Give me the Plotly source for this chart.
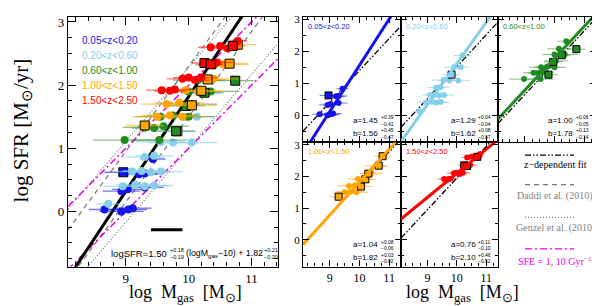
import plotly.graph_objects as go

# ---------------- data ----------------
bin_labels = ["0.05<z<0.20", "0.20<z<0.60", "0.60<z<1.00", "1.00<z<1.50", "1.50<z<2.50"]
bin_colors = ["rgb(20,20,235)", "rgb(135,206,235)", "rgb(34,139,34)", "rgb(255,165,0)", "rgb(255,0,0)"]
bar_colors = ["rgba(20,20,235,0.6)", "rgba(135,206,235,0.7)", "rgba(34,139,34,0.55)", "rgba(255,165,0,0.6)", "rgba(255,0,0,0.55)"]

blue_logm = [8.66, 8.93, 9.04, 9.11, 8.93, 9.03, 9.30, 8.96, 9.21, 9.30, 9.43]
blue_sfr = [0.03, 0.00, 0.03, 0.05, 0.32, 0.35, 0.38, 0.62, 0.59, 0.60, 0.83]
blue_err = [0.25, 0.35, 0.30, 0.30, 0.30, 0.25, 0.30, 0.30, 0.30, 0.30, 0.20]
blue_sq = [0, 0, 0, 0, 0, 0, 0, 1, 0, 0, 0]

lblue_logm = [8.72, 8.95, 9.15, 9.30, 9.45, 9.10, 9.25, 9.40, 9.56, 9.30, 9.45, 9.55, 9.75, 9.82, 9.91, 10.05, 10.13, 10.19]
lblue_sfr = [0.12, 0.40, 0.42, 0.40, 0.41, 0.63, 0.64, 0.62, 0.63, 0.86, 0.88, 1.10, 1.09, 1.27, 1.50, 1.09, 1.50, 1.87]
lblue_err = [0.20, 0.30, 0.30, 0.35, 0.30, 0.30, 0.30, 0.30, 0.35, 0.30, 0.30, 0.40, 0.40, 0.30, 0.35, 0.40, 0.30, 0.30]
lblue_sq = [0, 0, 0, 0, 0, 0, 0, 0, 0, 0, 0, 0, 0, 1, 0, 0, 0, 0]

green_logm = [8.98, 9.53, 9.30, 9.45, 9.60, 9.80, 9.55, 9.75, 10.00, 9.96, 10.05, 10.00, 10.25, 10.35, 10.15, 10.74, 10.40]
green_sfr = [1.13, 1.13, 1.33, 1.32, 1.35, 1.27, 1.50, 1.52, 1.50, 1.67, 1.70, 1.90, 1.88, 1.90, 2.08, 2.07, 2.32]
green_err = [0.50, 0.45, 0.35, 0.35, 0.40, 0.30, 0.40, 0.40, 0.40, 0.30, 0.40, 0.40, 0.30, 0.45, 0.40, 0.30, 0.30]
green_sq = [0, 0, 0, 0, 0, 1, 0, 0, 0, 1, 0, 0, 1, 0, 0, 1, 0]

orange_logm = [9.30, 9.50, 9.70, 9.90, 9.65, 9.85, 10.05, 9.95, 10.15, 10.20, 10.30, 10.40, 10.55, 10.65, 10.78]
orange_sfr = [1.36, 1.50, 1.52, 1.50, 1.70, 1.72, 1.68, 1.92, 1.90, 1.91, 2.09, 2.10, 2.33, 2.34, 2.64]
orange_err = [0.30, 0.40, 0.45, 0.40, 0.40, 0.40, 0.40, 0.35, 0.40, 0.30, 0.30, 0.40, 0.40, 0.30, 0.30]
orange_sq = [1, 0, 0, 0, 0, 0, 1, 0, 0, 1, 1, 0, 0, 1, 1]

red_logm = [9.57, 9.70, 9.78, 9.90, 10.00, 10.10, 10.20, 10.25, 10.35, 10.45, 10.35, 10.50, 10.62, 10.70, 10.78]
red_sfr = [1.92, 1.91, 1.93, 2.10, 2.12, 2.08, 2.12, 2.35, 2.33, 2.36, 2.60, 2.62, 2.58, 2.62, 2.70]
red_err = [0.25, 0.25, 0.25, 0.25, 0.25, 0.25, 0.25, 0.20, 0.20, 0.25, 0.20, 0.20, 0.20, 0.20, 0.15]
red_sq = [0, 0, 0, 0, 0, 0, 0, 1, 1, 0, 0, 0, 0, 1, 0]

all_logm = [blue_logm, lblue_logm, green_logm, orange_logm, red_logm]
all_sfr = [blue_sfr, lblue_sfr, green_sfr, orange_sfr, red_sfr]
all_err = [blue_err, lblue_err, green_err, orange_err, red_err]
all_sq = [blue_sq, lblue_sq, green_sq, orange_sq, red_sq]

# per-bin fits: logSFR = a (logM - 10) + b
fit_a = [1.45, 1.29, 1.00, 1.04, 0.76]
fit_a_up = ["+0.39", "+0.04", "+0.06", "+0.08", "+0.11"]
fit_a_lo = ["−0.41", "−0.04", "−0.05", "−0.06", "−0.10"]
fit_b = [1.56, 1.62, 1.78, 1.82, 2.10]
fit_b_up = ["+0.45", "+0.08", "+0.13", "+0.03", "+0.46"]
fit_b_lo = ["−0.47", "−0.07", "−0.14", "−0.02", "−0.52"]

# z-dependent fit per bin
zdep_slope = [1.00, 1.00, 1.00, 1.00, 1.00]
zdep_norm = [1.40, 1.52, 1.64, 1.78, 1.95]

# global fit
glob_a, glob_b = 1.50, 1.82
# literature relations (slope, value at logM=10)
daddi = [(1.35, 2.30), (1.35, 1.50)]
genzel = [(1.17, 2.28), (1.17, 1.00)]
sfe = [(1.0, 2.0), (1.0, 1.0)]   # SFE = 10 and 1 Gyr^-1
syserr_x = [9.40, 9.90]
syserr_y = [-0.29, -0.29]

XR = [8.08, 11.42]
YR = [-0.875, 3.08]
XRS = [8.1, 11.4]
YRS = [-0.85, 3.08]

W, H = 600, 306
def px(x): return x / W
def py(y): return 1 - y / H

fig = go.Figure()

def line(a, b, xr, color, width, dash, xa, ya):
    xs = [xr[0], xr[1]]
    ys = [a * (v - 10) + b for v in xs]
    fig.add_trace(go.Scatter(x=xs, y=ys, mode="lines", xaxis=xa, yaxis=ya, showlegend=False,
                             line=dict(color=color, width=width, dash=dash), hoverinfo="skip"))

def points(i, xa, ya, msize, ebw):
    c = bin_colors[i]
    xs, ys, es, sq = all_logm[i], all_sfr[i], all_err[i], all_sq[i]
    fig.add_trace(go.Scatter(x=xs, y=ys, mode="markers", xaxis=xa, yaxis=ya, showlegend=False,
                             marker=dict(color=c, size=msize, symbol="circle"),
                             error_x=dict(type="data", array=es, color=bar_colors[i], thickness=ebw, width=0)))
    sx = [x for x, s in zip(xs, sq) if s]
    sy = [y for y, s in zip(ys, sq) if s]
    fig.add_trace(go.Scatter(x=sx, y=sy, mode="markers", xaxis=xa, yaxis=ya, showlegend=False,
                             marker=dict(color=c, size=msize + 1, symbol="square",
                                         line=dict(color="black", width=1))))

DADDI_DASH = "5px,4px"
GENZEL_DASH = "1px,2px"
SFE_DASH = "7px,3px,2px,3px"
ZDEP_DASH = "6px,2px,1.5px,2px,1.5px,2px"

# main panel
for a, b in daddi:
    line(a, b, XR, "rgb(120,120,120)", 1.2, DADDI_DASH, "x", "y")
for a, b in genzel:
    line(a, b, XR, "rgb(120,120,120)", 1.2, GENZEL_DASH, "x", "y")
for a, b in sfe:
    line(a, b, XR, "rgb(230,0,230)", 1.5, SFE_DASH, "x", "y")
line(glob_a, glob_b, XR, "black", 3, "solid", "x", "y")
for i in range(5):
    points(i, "x", "y", 8, 1.3)
fig.add_trace(go.Scatter(x=syserr_x, y=syserr_y, mode="lines", xaxis="x", yaxis="y", showlegend=False,
                         line=dict(color="black", width=3)))

# sub panels
sub_axes = [("x2", "y2"), ("x3", "y3"), ("x4", "y4"), ("x5", "y5"), ("x6", "y6")]
for i, (xa, ya) in enumerate(sub_axes):
    line(zdep_slope[i], zdep_norm[i], XRS, "black", 1.3, ZDEP_DASH, xa, ya)
    points(i, xa, ya, 6, 1.0)
    line(fit_a[i], fit_b[i], XRS, bin_colors[i], 3, "solid", xa, ya)

# ---------------- layout ----------------
main_x = [60 / W, 270 / W]
main_y = [py(258), py(5)]
cols = [[295 / W, 393 / W], [393 / W, 490 / W], [490 / W, 588 / W]]
rows = [[py(132), py(5)], [py(258), py(132)]]

tickfont_main = dict(family="Liberation Serif", size=13, color="black")
tickfont_subx = dict(family="Liberation Serif", size=12, color="black")
tickfont_suby = dict(family="Liberation Serif", size=11, color="black")

def ax(domain, rng, dtick, minor, anchor, showlabels, big, tickfont):
    return dict(domain=domain, range=rng, anchor=anchor, showgrid=False, zeroline=False,
                showline=True, linecolor="black", linewidth=1.3, mirror="ticks",
                ticks="inside", ticklen=8 if big else 6, tickwidth=1.2, tickcolor="black",
                tick0=0, dtick=dtick, showticklabels=showlabels, tickfont=tickfont,
                minor=dict(dtick=minor, ticks="inside", ticklen=4 if big else 3, tickwidth=1, tickcolor="black"))

layout = dict(width=W, height=H, autosize=False, margin=dict(l=0, r=0, t=0, b=0),
              paper_bgcolor="white", plot_bgcolor="white", showlegend=False)
layout["xaxis"] = ax(main_x, XR, 1, 0.2, "y", True, True, tickfont_main)
layout["yaxis"] = ax(main_y, YR, 1, 0.25, "x", True, True, tickfont_main)
pos = [(0, 0), (1, 0), (2, 0), (0, 1), (1, 1)]
for n, (c, r) in zip(range(2, 7), pos):
    layout[f"xaxis{n}"] = ax(cols[c], XRS, 1, 0.25, f"y{n}", r == 1, False, tickfont_subx)
    layout[f"yaxis{n}"] = ax(rows[r], YRS, 1, 0.5, f"x{n}", c == 0, False, tickfont_suby)
fig.update_layout(**layout)

ann = []
def A(text, x, y, size, color="black", family="Liberation Sans", xanchor="center", yanchor="middle",
      xref="paper", yref="paper", textangle=0, yshift=0):
    ann.append(dict(text=text, x=x, y=y, xref=xref, yref=yref, showarrow=False,
                    font=dict(size=size, color=color, family=family), xanchor=xanchor,
                    yanchor=yanchor, textangle=textangle, yshift=yshift, borderpad=0))

def stacked(up, lo, x, y, size, xref="paper", yref="paper"):
    A(up, x, y, size, xanchor="left", xref=xref, yref=yref, yshift=3.3)
    A(lo, x, y, size, xanchor="left", xref=xref, yref=yref, yshift=-3.3)

# main-panel redshift labels
for i, lab in enumerate(bin_labels):
    A(lab.replace("<", "&lt;"), px(73), py(29 + 15.2 * i), 10, color=bin_colors[i], xanchor="left")

# main formula
fy = py(245)
A("logSFR=1.50", px(160), fy, 9.5, xanchor="right")
stacked("+0.18", "−0.19", px(160.5), fy, 5.5)
A("(logM<sub>gas</sub>−10) + 1.82", px(177), fy, 8.8, xanchor="left")
stacked("+0.21", "−0.20", px(255), fy, 5.5)

# sub-panel labels and fit parameters
for i, (c, r) in enumerate(pos):
    n = i + 2
    A(bin_labels[i].replace("<", "&lt;"), 0.04, 0.97, 7.5, color=bin_colors[i], xanchor="left",
      yanchor="top", xref=f"x{n} domain", yref=f"y{n} domain")
    A(f"a={fit_a[i]:.2f}", 0.78, 0.175, 8, xanchor="right", xref=f"x{n} domain", yref=f"y{n} domain")
    stacked(fit_a_up[i], fit_a_lo[i], 0.785, 0.175, 5, xref=f"x{n} domain", yref=f"y{n} domain")
    A(f"b={fit_b[i]:.2f}", 0.78, 0.07, 8, xanchor="right", xref=f"x{n} domain", yref=f"y{n} domain")
    stacked(fit_b_up[i], fit_b_lo[i], 0.785, 0.07, 5, xref=f"x{n} domain", yref=f"y{n} domain")

# axis titles
A("log&#160;SFR&#160;[M<sub>⊙</sub>/yr]", px(14), py(120), 21, family="Liberation Serif", textangle=-90)
A("log&#160;&#160;M<sub>gas</sub>&#160;&#160;[M<sub>⊙</sub>]", px(177), py(298), 18,
  family="Liberation Serif", yanchor="bottom")
A("log&#160;&#160;M<sub>gas</sub>&#160;&#160;[M<sub>⊙</sub>]", px(454), py(298), 18,
  family="Liberation Serif", yanchor="bottom")

# legend in the empty cell
leg_items = [
    ("z−dependent fit", "black", ZDEP_DASH, 145, 155),
    ("Daddi et al. (2010)", "rgb(120,120,120)", DADDI_DASH, 175, 186),
    ("Genzel et al. (2010)", "rgb(120,120,120)", GENZEL_DASH, 208, 219),
    ("SFE = 1, 10 Gyr<sup>−1</sup>", "rgb(230,0,230)", SFE_DASH, 240, 252),
]
shapes = []
for text, col, dash, ly, ty in leg_items:
    shapes.append(dict(type="line", xref="paper", yref="paper", x0=px(517), x1=px(566),
                       y0=py(ly), y1=py(ly), line=dict(color=col, width=1.3, dash=dash)))
    tcol = "rgb(130,130,130)" if col.startswith("rgb(120") else col
    A(text, px(547), py(ty), 10, color=tcol, family="Liberation Serif")

fig.update_layout(annotations=ann, shapes=shapes)
fig.write_html("out.html")
